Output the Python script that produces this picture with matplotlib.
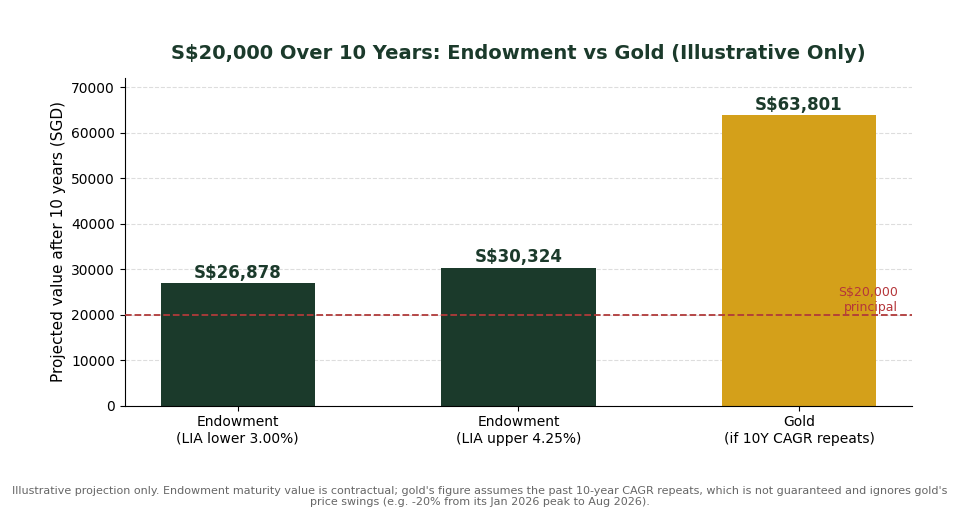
import matplotlib.pyplot as plt

categories = ['Endowment\n(LIA lower 3.00%)', 'Endowment\n(LIA upper 4.25%)', 'Gold\n(if 10Y CAGR repeats)']
values = [26878, 30324, 63801]
principal = 20000
bar_colors = ['#1b3a2b', '#1b3a2b', '#d4a01a']
footnote = ("Illustrative projection only. Endowment maturity value is contractual; gold's figure assumes the past "
            "10-year CAGR repeats, which is not guaranteed and ignores gold's\nprice swings (e.g. -20% from its "
            "Jan 2026 peak to Aug 2026).")

fig, ax = plt.subplots(figsize=(9.6, 5.2), dpi=100)
fig.subplots_adjust(left=0.13, right=0.95, top=0.85, bottom=0.22)

x = range(len(categories))
bars = ax.bar(x, values, width=0.55, color=bar_colors, zorder=2)
for b, v in zip(bars, values):
    ax.text(b.get_x() + b.get_width() / 2, v + 350, f'S${v:,}', ha='center', va='bottom',
            fontsize=12, fontweight='bold', color='#1b3a2b')

ax.axhline(principal, color='#b03a3a', linestyle='--', linewidth=1.3, zorder=3)
ax.text(0.982, principal + 100, 'S$20,000\nprincipal', transform=ax.get_yaxis_transform(),
        ha='right', va='bottom', fontsize=9, color='#b5363a', zorder=4)

ax.set_xticks(list(x))
ax.set_xticklabels(categories, fontsize=10)
ax.set_ylim(0, 72000)
ax.set_ylabel('Projected value after 10 years (SGD)', fontsize=11)
ax.set_title('S$20,000 Over 10 Years: Endowment vs Gold (Illustrative Only)', fontsize=14,
             fontweight='bold', color='#1b3a2b', pad=14)
ax.yaxis.grid(True, linestyle='--', color='#dddddd', linewidth=0.8, zorder=0)
ax.set_axisbelow(True)
ax.spines['top'].set_visible(False)
ax.spines['right'].set_visible(False)

fig.text(0.5, 0.045, footnote, ha='center', va='center', fontsize=8, color='#666666')

plt.savefig('out.png', dpi=100)
